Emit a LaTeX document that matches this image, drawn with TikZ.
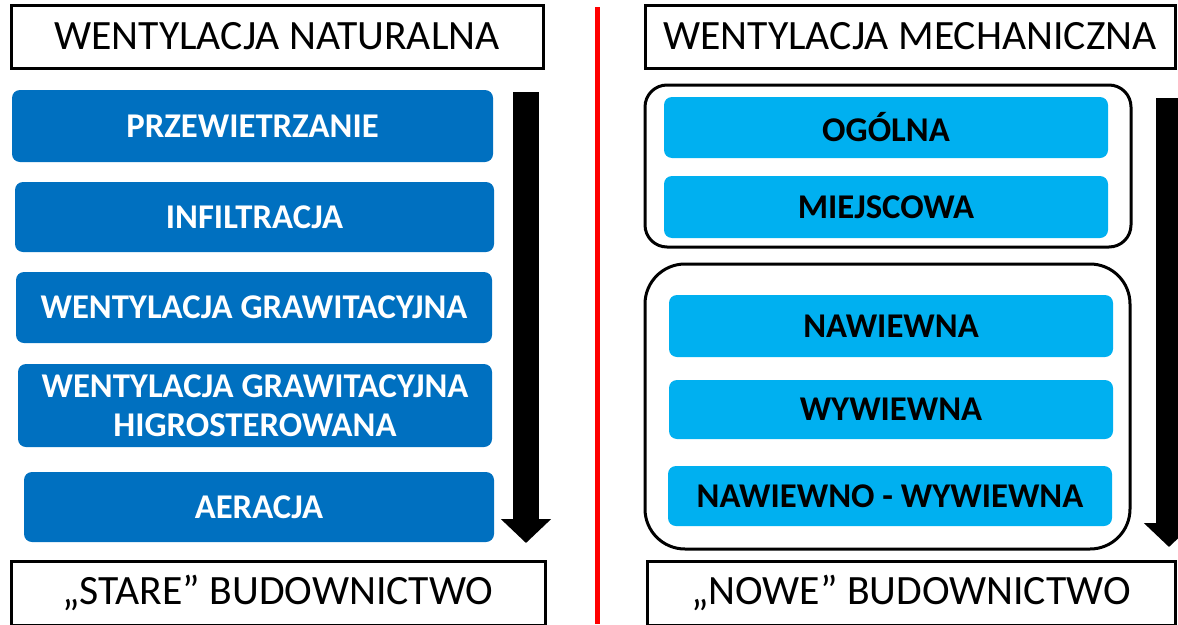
\documentclass[tikz,border=0pt]{standalone}
\usepackage{fontspec}
\setmainfont{Carlito}
\usetikzlibrary{arrows.meta}
\definecolor{darkblue}{HTML}{0070C0}
\definecolor{lightblue}{HTML}{00B0F0}
\definecolor{sepred}{HTML}{FF0000}

\begin{document}
\begin{tikzpicture}[x=1pt,y=-1pt,
  titlebox/.style={draw=black,line width=3pt,fill=white,inner sep=0pt,
    font=\fontsize{41.7}{44}\selectfont},
  darkbox/.style={fill=darkblue,rounded corners=8pt,text=white,inner sep=0pt,
    align=center,font=\fontsize{34.7}{39}\selectfont\bfseries},
  lightbox/.style={fill=lightblue,rounded corners=8pt,text=black,inner sep=0pt,
    minimum width=444,font=\fontsize{34.7}{39}\selectfont\bfseries},
  groupbox/.style={draw=black,line width=3pt,inner sep=0pt},
  timeline/.style={line width=26pt,-{Triangle[width=49pt,length=24pt]}}]
  \useasboundingbox (0,0) rectangle (1178,624);
  % left column
  \node[titlebox,minimum width=532,minimum height=63] (natural) at (277,36.5) {WENTYLACJA NATURALNA};
  \node[darkbox,minimum width=481,minimum height=72] (przew) at (252.5,126) {PRZEWIETRZANIE};
  \node[darkbox,minimum width=479,minimum height=70] (infil) at (254.5,217) {INFILTRACJA};
  \node[darkbox,minimum width=476,minimum height=71] (grawi) at (254,307.5) {WENTYLACJA GRAWITACYJNA};
  \node[darkbox,minimum width=474,minimum height=83] (higro) at (255,405.5) {WENTYLACJA GRAWITACYJNA\\HIGROSTEROWANA};
  \node[darkbox,minimum width=470,minimum height=70] (aerac) at (259,507) {AERACJA};
  \node[titlebox,minimum width=534,minimum height=64] (stare) at (278,593) {„STARE” BUDOWNICTWO};
  \coordinate (lTop) at (526,92);
  \coordinate (lEnd) at (526,543);
  \draw[timeline] (lTop) -- (lEnd);
  % separator
  \coordinate (sepTop) at (597,7);
  \coordinate (sepBot) at (597,624);
  \draw[sepred,line width=5pt] (sepTop) -- (sepBot);
  % right column
  \node[titlebox,minimum width=530,minimum height=63] (mechan) at (910,36.5) {WENTYLACJA MECHANICZNA};
  \draw[groupbox,rounded corners=22pt] (645,85) rectangle (1131,247);
  \node[lightbox,minimum height=61] (ogoln) at (886,127.5) {OGÓLNA};
  \node[lightbox,minimum height=62] (miejs) at (886,207) {MIEJSCOWA};
  \draw[groupbox,rounded corners=40pt] (645,264) rectangle (1130,549);
  \node[lightbox,minimum height=62] (nawie) at (891,326) {NAWIEWNA};
  \node[lightbox,minimum height=59] (wywie) at (891,409.5) {WYWIEWNA};
  \node[lightbox,minimum height=60] (nawwy) at (890,496) {NAWIEWNO - WYWIEWNA};
  \node[titlebox,minimum width=528,minimum height=64] (nowe) at (911,593) {„NOWE” BUDOWNICTWO};
  \coordinate (rTop) at (1169,98);
  \coordinate (rEnd) at (1169,547);
  \draw[timeline] (rTop) -- (rEnd);
\end{tikzpicture}
\end{document}
